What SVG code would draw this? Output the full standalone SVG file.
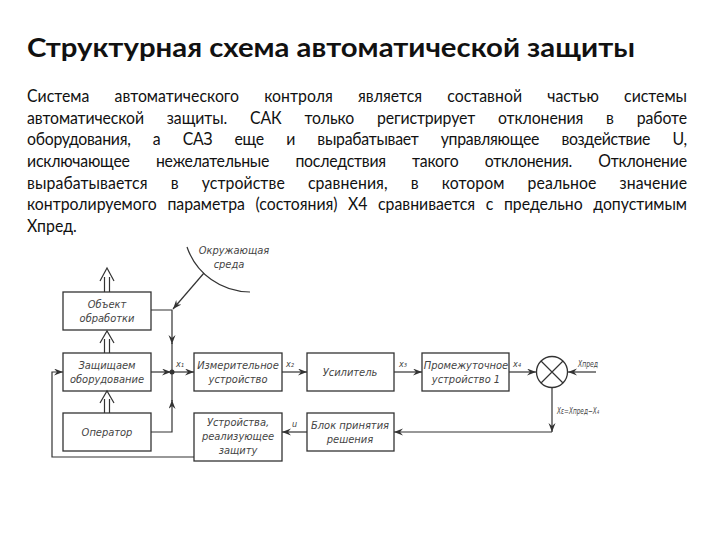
<svg xmlns="http://www.w3.org/2000/svg" width="720" height="540" viewBox="0 0 720 540">
<defs>
<style>
.title{font-family:Lato,"Noto Sans",sans-serif;font-weight:bold;font-size:26px;fill:#111}
.body{font-family:Lato,"Noto Sans",sans-serif;font-size:18px;fill:#111}
.box{fill:#fff;stroke:#333;stroke-width:1.3}
.lbl{font-family:"DejaVu Sans Condensed","DejaVu Sans",sans-serif;font-style:italic;font-size:11px;fill:#444;text-anchor:middle}
.sm{font-family:"DejaVu Sans Condensed","DejaVu Sans",sans-serif;font-style:italic;font-size:9px;fill:#444}
.ln{fill:none;stroke:#333;stroke-width:1.2}
.arr{fill:none;stroke:#333;stroke-width:1.2;marker-end:url(#ah)}
</style>
<marker id="ah" markerWidth="10" markerHeight="8" refX="9" refY="3.5" orient="auto" markerUnits="userSpaceOnUse">
<path d="M0,0 L9,3.5 L0,7 L3,3.5 z" fill="#333"/>
</marker>
</defs>
<rect width="720" height="540" fill="#fff"/>
<text class="title" x="27" y="57" textLength="608" lengthAdjust="spacingAndGlyphs">Структурная схема автоматической защиты</text>
<g id="paragraph" transform="scale(0.88,1)">
<text class="body" x="30.7" y="102" textLength="750" lengthAdjust="spacing" word-spacing="24">Система автоматического контроля является составной частью системы</text>
<text class="body" x="30.7" y="123.7" textLength="750" lengthAdjust="spacing" word-spacing="21.5">автоматической защиты. САК только регистрирует отклонения в работе</text>
<text class="body" x="30.7" y="145.4" textLength="750" lengthAdjust="spacing" word-spacing="21">оборудования, а САЗ еще и вырабатывает управляющее воздействие U,</text>
<text class="body" x="30.7" y="167.1" textLength="750" lengthAdjust="spacing" word-spacing="25.5">исключающее нежелательные последствия такого отклонения. Отклонение</text>
<text class="body" x="30.7" y="188.8" textLength="750" lengthAdjust="spacing" word-spacing="21.5">вырабатывается в устройстве сравнения, в котором реальное значение</text>
<text class="body" x="30.7" y="210.5" textLength="750" lengthAdjust="spacing" word-spacing="7.5">контролируемого параметра (состояния) X4 сравнивается с предельно допустимым</text>
<text class="body" x="30.7" y="232.2">Хпред.</text>
</g>
<g id="environment">
<path class="ln" d="M187,247 A66.6,66.6 0 0 0 250,292"/>
<text class="lbl" x="234" y="254">Окружающая</text>
<text class="lbl" x="229" y="268">среда</text>
</g>
<g id="obj">
<rect class="box" x="63" y="292" width="88" height="38"/>
<text class="lbl" x="107" y="308">Объект</text>
<text class="lbl" x="107" y="322">обработки</text>
</g>
<g id="equip">
<rect class="box" x="63" y="353" width="88" height="38"/>
<text class="lbl" x="107" y="369">Защищаем</text>
<text class="lbl" x="107" y="383">оборудование</text>
</g>
<g id="operator">
<rect class="box" x="63" y="413" width="88" height="38"/>
<text class="lbl" x="107" y="436">Оператор</text>
</g>
<g id="measure">
<rect class="box" x="194" y="353" width="88" height="38"/>
<text class="lbl" x="238" y="369">Измерительное</text>
<text class="lbl" x="238" y="383">устройство</text>
</g>
<g id="amp">
<rect class="box" x="307" y="353" width="87" height="38"/>
<text class="lbl" x="350" y="376">Усилитель</text>
</g>
<g id="inter">
<rect class="box" x="422" y="353" width="87" height="38"/>
<text class="lbl" x="466" y="369">Промежуточное</text>
<text class="lbl" x="466" y="383">устройство 1</text>
</g>
<g id="comparator">
<circle cx="552" cy="372" r="15.5" fill="#fff" stroke="#333" stroke-width="1.3"/>
<path class="ln" d="M541,361 L563,383 M563,361 L541,383"/>
</g>
<g id="decision">
<rect class="box" x="307" y="413" width="87" height="38"/>
<text class="lbl" x="350" y="429">Блок принятия</text>
<text class="lbl" x="350" y="443">решения</text>
</g>
<g id="protect">
<rect class="box" x="194" y="413" width="88" height="48"/>
<text class="lbl" x="238" y="426">Устройства,</text>
<text class="lbl" x="238" y="440">реализующее</text>
<text class="lbl" x="238" y="454">защиту</text>
</g>
<g id="connectors">
<path class="ln" d="M104.5,292 V277 M109.5,292 V277 M100,281 L107,268 L114,281"/>
<path class="ln" d="M104.5,353 V339 M109.5,353 V339 M100,343 L107,331 L114,343"/>
<path class="ln" d="M104.5,413 V399 M109.5,413 V399 M100,403 L107,391 L114,403"/>
<path class="arr" d="M204,273 L173,309"/>
<path class="arr" d="M151,310 H172 V344"/>
<path class="ln" d="M172,343 V372"/>
<path class="arr" d="M151,372 H171"/>
<path class="arr" d="M151,432 H172 V400"/>
<path class="ln" d="M172,401 V372"/>
<circle cx="172" cy="372" r="2.5" fill="#333"/>
<path class="arr" d="M172,372 H194"/>
<path class="arr" d="M282,372 H307"/>
<path class="arr" d="M394,372 H422"/>
<path class="arr" d="M509,372 H536"/>
<path class="arr" d="M596,372 H568"/>
<path class="arr" d="M552,388 V432"/>
<path class="arr" d="M552,432 H394"/>
<path class="arr" d="M307,432 H282"/>
<path class="arr" d="M194,457 H52 V372 H63"/>
<text class="sm" x="176" y="367">x₁</text>
<text class="sm" x="286" y="367">x₂</text>
<text class="sm" x="399" y="367">x₃</text>
<text class="sm" x="513" y="367">x₄</text>
<text class="sm" x="578" y="367" textLength="20" lengthAdjust="spacingAndGlyphs">Xпред</text>
<text class="sm" x="292" y="427">u</text>
<text class="sm" x="557" y="414" textLength="42" lengthAdjust="spacingAndGlyphs">Xε=Xпред−X₄</text>
</g>
</svg>
